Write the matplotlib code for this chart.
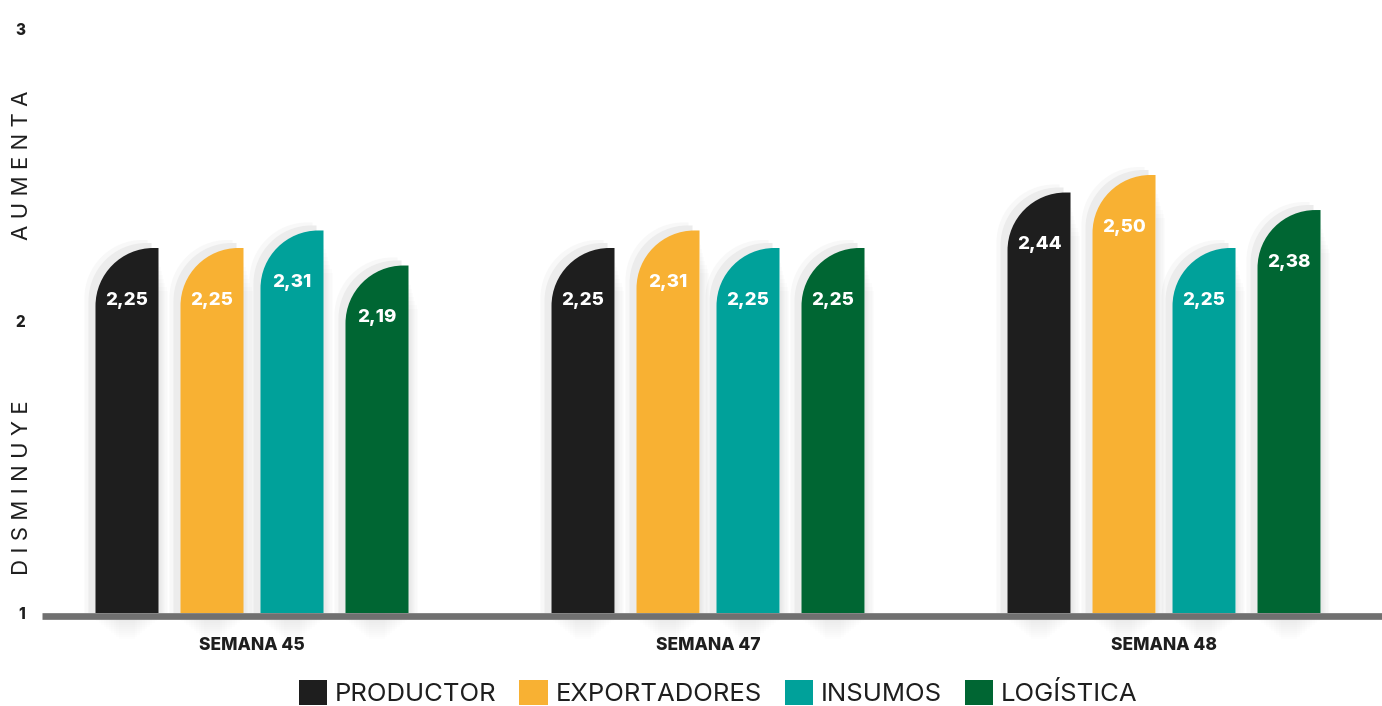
import matplotlib
matplotlib.use('Agg')
import matplotlib.pyplot as plt
from matplotlib.path import Path
from matplotlib.patches import PathPatch, Patch, Rectangle

plt.rcParams['font.family'] = ['Inter', 'DejaVu Sans']

weeks = ['SEMANA 45', 'SEMANA 47', 'SEMANA 48']
series = ['PRODUCTOR', 'EXPORTADORES', 'INSUMOS', 'LOGÍSTICA']
productor = [2.25, 2.25, 2.44]
exportadores = [2.25, 2.31, 2.50]
insumos = [2.31, 2.25, 2.25]
logistica = [2.19, 2.25, 2.38]
yticks = [1, 2, 3]

values = [productor, exportadores, insumos, logistica]
colors = ['#1e1e1e', '#f8b133', '#00a19a', '#006633']
text_color = '#1e1e1e'

W, H = 1382, 706
fig = plt.figure(figsize=(W / 100, H / 100), dpi=100)
ax_left, ax_bottom, ax_w, ax_h = 42, 93, 1340, 584
ax = fig.add_axes([ax_left / W, ax_bottom / H, ax_w / W, ax_h / H])
xmin, xmax = -0.4605, 2.478
ax.set_xlim(xmin, xmax)
ax.set_ylim(1, 3)
px_x = (xmax - xmin) / ax_w
px_y = 2.0 / ax_h

offsets_px = [-125, -40, 40, 125]
bar_w_px = 63
r_px = 58
K = 0.5523


def bar_path(x0, x1, base, top, rx, ry):
    ry = min(ry, top - base)
    verts = [(x0, base), (x0, top - ry),
             (x0, top - ry + K * ry), (x0 + rx - K * rx, top), (x0 + rx, top),
             (x1, top), (x1, base), (x0, base)]
    codes = [Path.MOVETO, Path.LINETO, Path.CURVE4, Path.CURVE4, Path.CURVE4,
             Path.LINETO, Path.LINETO, Path.CLOSEPOLY]
    return Path(verts, codes)


bw = bar_w_px * px_x
rx = r_px * px_x
ry = r_px * px_y
for si, (vals, col) in enumerate(zip(values, colors)):
    for gi, v in enumerate(vals):
        xc = gi + offsets_px[si] * px_x
        x0, x1 = xc - bw / 2, xc + bw / 2
        # soft shadow layers
        for (dx, dy, c, z) in [(-11, 8, '#f8f8f8', 1), (-7, 5, '#ececec', 2)]:
            p = bar_path(x0 + dx * px_x, x1 + dx * px_x, 1, v + dy * px_y, rx, ry)
            ax.add_patch(PathPatch(p, facecolor=c, edgecolor='none', zorder=z))
        # faint shadow on the right side
        for k in range(8):
            ax.add_patch(Rectangle((x1, 1), (1 + 1.2 * k) * px_x, v - 1 - (15 + 4 * k) * px_y,
                                   facecolor='#000000', alpha=0.01, edgecolor='none', zorder=1.5))
        # blurred shadow under the baseline
        for k in range(12):
            ax.add_patch(Rectangle((x0 - 4 * px_x + k * 2.5 * px_x, 1 - (4 + 2 * k) * px_y),
                                   bw + 8 * px_x - k * 5 * px_x, (4 + 2 * k) * px_y,
                                   facecolor='#000000', alpha=0.008, edgecolor='none',
                                   zorder=1, clip_on=False))
        p = bar_path(x0, x1, 1, v, rx, ry)
        ax.add_patch(PathPatch(p, facecolor=col, edgecolor='none', zorder=3))
        ax.text(xc, v - 52 * px_y, f'{v:.2f}'.replace('.', ','), ha='center', va='center',
                color='white', fontsize=13.5, fontweight='heavy', zorder=4)

ax.axhline(1 - 3 * px_y, color='#707070', lw=4.8, zorder=5, clip_on=False,
           solid_capstyle='butt')

for s in ax.spines.values():
    s.set_visible(False)
ax.set_xticks(range(len(weeks)), weeks)
ax.tick_params(axis='x', length=0, pad=17, labelsize=12.5, labelcolor=text_color)
for t in ax.get_xticklabels():
    t.set_fontweight('heavy')
ax.set_yticks(yticks, [str(t) for t in yticks])
ax.tick_params(axis='y', length=0, pad=12, labelsize=11, labelcolor=text_color)
for t in ax.get_yticklabels():
    t.set_fontweight('heavy')

fig.text(22 / W, 1 - 165 / H, ' '.join('AUMENTA'), rotation=90, ha='center', va='center',
         fontsize=16, color=text_color)
fig.text(22 / W, 1 - 488 / H, ' '.join('DISMINUYE'), rotation=90, ha='center', va='center',
         fontsize=16, color=text_color)

handles = [Patch(facecolor=c, edgecolor='none') for c in colors]
leg = fig.legend(handles, series, loc='center', bbox_to_anchor=(718 / W, 1 - 693 / H), ncol=4,
                 frameon=False, fontsize=18.5, handlelength=1.1, handleheight=1.1,
                 handletextpad=0.3, columnspacing=0.9, borderaxespad=0, borderpad=0)
for t in leg.get_texts():
    t.set_color(text_color)

fig.savefig('out.png', dpi=100)
